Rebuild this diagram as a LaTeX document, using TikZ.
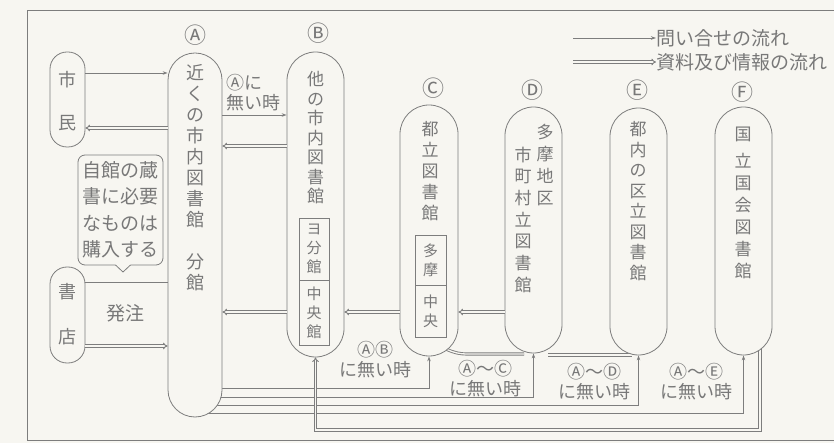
\documentclass[tikz,border=0pt]{standalone}
\usepackage{fontspec}
\newfontfamily\jp{Noto Sans CJK JP}
\usetikzlibrary{arrows.meta,backgrounds}
\definecolor{bgc}{RGB}{247,246,241}
\definecolor{lc}{RGB}{125,125,125}
\definecolor{tc}{RGB}{120,120,120}
\begin{document}
\begin{tikzpicture}[x=1pt,y=-1pt,
  capsule/.style={draw=lc,fill=bgc,line width=.8pt,inner sep=0pt},
  vt/.style 2 args={font=\jp\fontsize{#1}{#2}\selectfont,text=tc,inner sep=0pt,align=center,anchor=north},
  jt/.style={font=\jp\fontsize{#1}{#1}\selectfont,text=tc,inner sep=0pt},
  lab/.style={font=\jp\fontsize{18}{20}\selectfont,text=tc,inner sep=0pt,align=center},
  innerbox/.style={draw=lc,line width=.8pt,fill=bgc,inner sep=0pt,font=\jp\fontsize{15}{19}\selectfont,text=tc,align=center},
  thinarr/.style={draw=lc,line width=.8pt,-{Stealth[length=5pt,width=3.5pt]}},
  thinl/.style={draw=lc,line width=.8pt},
  dbl/.style={draw=lc,line width=.9pt,double=bgc,double distance=1.3pt},
  dblarr/.style={dbl,-{Implies}},
]
\begin{scope}[on background layer]
\fill[bgc] (0,0) rectangle (834,443);
\end{scope}
\useasboundingbox (0,0) rectangle (834,443);
% frame
\draw[lc,line width=.9pt] (834,10) -- (27,10) -- (27,440) -- (834,440);

% legend
\coordinate (lg1) at (573,38);
\coordinate (lg2) at (573,62);
\node[jt=19,anchor=west] (leg1) at (656,38) {問い合せの流れ};
\node[jt=19,anchor=west] (leg2) at (656,62) {資料及び情報の流れ};
\draw[thinarr] (lg1) -- (leg1.west);
\draw[dblarr] (lg2) -- (leg2.west);

% left nodes
\node[capsule,minimum width=35pt,minimum height=95pt,rounded corners=17pt] (shimin) at (67.5,99.5) {};
\node[vt={18}{43}] (shimint) at (67.5,71) {市\\民};
\node[capsule,minimum width=35pt,minimum height=96pt,rounded corners=17pt] (shoten) at (67.5,315) {};
\node[vt={18}{45}] (shotent) at (67.5,283) {書\\店};

% callout
\node[draw=lc,fill=bgc,line width=.8pt,rounded corners=7pt,minimum width=85pt,minimum height=110pt,
      font=\jp\fontsize{19}{26.5}\selectfont,text=tc,align=center,inner sep=0pt] (callout) at (120.5,210)
      {自館の蔵\\書に必要\\なものは\\購入する};
\fill[bgc] (115,264) -- (123,272) -- (131,264) -- cycle;
\draw[lc,line width=.8pt,line join=round] (115.5,265) -- (123,272) -- (130.5,265);

% A
\node[capsule,minimum width=54pt,minimum height=364pt,rounded corners=27pt] (A) at (195,235) {};
\node[vt={18}{21}] (At) at (195,64) {近\\く\\の\\市\\内\\図\\書\\館\\[21pt]分\\館};
\node[jt=22] (Al) at (195,35) {Ⓐ};

% B
\node[capsule,minimum width=57pt,minimum height=305pt,rounded corners=28.5pt] (B) at (315.5,204.5) {};
\node[vt={17}{19.5}] (Bt) at (315.5,71.5) {他\\の\\市\\内\\図\\書\\館};
\node[innerbox,minimum width=30pt,minimum height=62pt] (Bb1) at (314,249) {ヨ\\分\\館};
\node[innerbox,minimum width=30pt,minimum height=65pt] (Bb2) at (314,312.5) {中\\央\\館};
\node[jt=22] (Bl) at (318,33) {Ⓑ};

% C
\node[capsule,minimum width=58pt,minimum height=251pt,rounded corners=29pt] (C) at (429,230.5) {};
\node[vt={17}{21}] (Ct) at (430,121.5) {都\\立\\図\\書\\館};
\node[innerbox,minimum width=31pt,minimum height=50pt] (Cb1) at (430.5,260) {多\\摩};
\node[innerbox,minimum width=31pt,minimum height=52pt] (Cb2) at (430.5,311) {中\\央};
\node[jt=22] (Cl) at (433,88) {Ⓒ};

% D
\node[capsule,minimum width=57pt,minimum height=246pt,rounded corners=28.5pt] (D) at (533.5,230) {};
\node[vt={17}{22}] (Dt1) at (545,123.5) {多\\摩\\地\\区};
\node[vt={17}{21.7}] (Dt2) at (523,146.5) {市\\町\\村\\立\\図\\書\\館};
\node[jt=22] (Dl) at (532,90) {Ⓓ};

% E
\node[capsule,minimum width=57pt,minimum height=247pt,rounded corners=28.5pt] (E) at (638.5,231.5) {};
\node[vt={17}{20.5}] (Et) at (638,121.5) {都\\内\\の\\区\\立\\図\\書\\館};
\node[jt=22] (El) at (637,90) {Ⓔ};

% F
\node[capsule,minimum width=57pt,minimum height=248pt,rounded corners=28.5pt] (F) at (743.5,231) {};
\node[vt={17}{22}] (Ft) at (743,126.5) {国\\[5pt]立\\国\\会\\図\\書\\館};
\node[jt=22] (Fl) at (742,92) {Ⓕ};

% connectors left
\draw[thinarr] (shimin.east |- 0,73) -- (A.west |- 0,73);
\draw[dblarr] (A.west |- 0,128) -- (shimin.east |- 0,128);
\draw[thinl] (A.west |- 0,282) -- (shoten.east |- 0,282);
\draw[dblarr] (shoten.east |- 0,346) -- (A.west |- 0,346);
\node[jt=19] (hatchu) at (125,313) {発注};

% A - B
\draw[thinarr] (A.east |- 0,115) -- (B.west |- 0,115);
\node[lab,align=left,anchor=west] (labAB) at (226,93) {Ⓐに\\無い時};
\draw[dblarr] (B.west |- 0,146) -- (A.east |- 0,146);
% materials along 312
\draw[dblarr] (C.west |- 0,312) -- (B.east |- 0,312);
\draw[dblarr] (B.west |- 0,312) -- (A.east |- 0,312);
\draw[dblarr] (D.west |- 0,312) -- (C.east |- 0,312);

% bottom inquiries (behind nodes)
\begin{scope}[on background layer]
\draw[thinarr] (A.center |- 0,388) -| (C.south);
\draw[thinarr] (A.center |- 0,397) -| (D.south);
\draw[thinarr] (A.center |- 0,405) -| (E.south);
\draw[thinarr] (A.center |- 0,413) -| (F.south);
\coordinate (fb1) at (760,430);
\draw[dblarr] (F.center -| fb1) -- (fb1) -- (B.south |- fb1) -- (B.south);
\draw[dbl] (446,349) to[out=-25,in=180] (468,354) -- (524,354);
\draw[dbl] (548,355) -- (632,355);
\end{scope}

% bottom labels
\node[lab] (lb1) at (375,360) {ⒶⒷ\\に無い時};
\node[lab] (lb2) at (485,379) {Ⓐ〜Ⓒ\\に無い時};
\node[lab] (lb3) at (594,382) {Ⓐ〜Ⓓ\\に無い時};
\node[lab] (lb4) at (696,382) {Ⓐ〜Ⓔ\\に無い時};
\end{tikzpicture}
\end{document}
